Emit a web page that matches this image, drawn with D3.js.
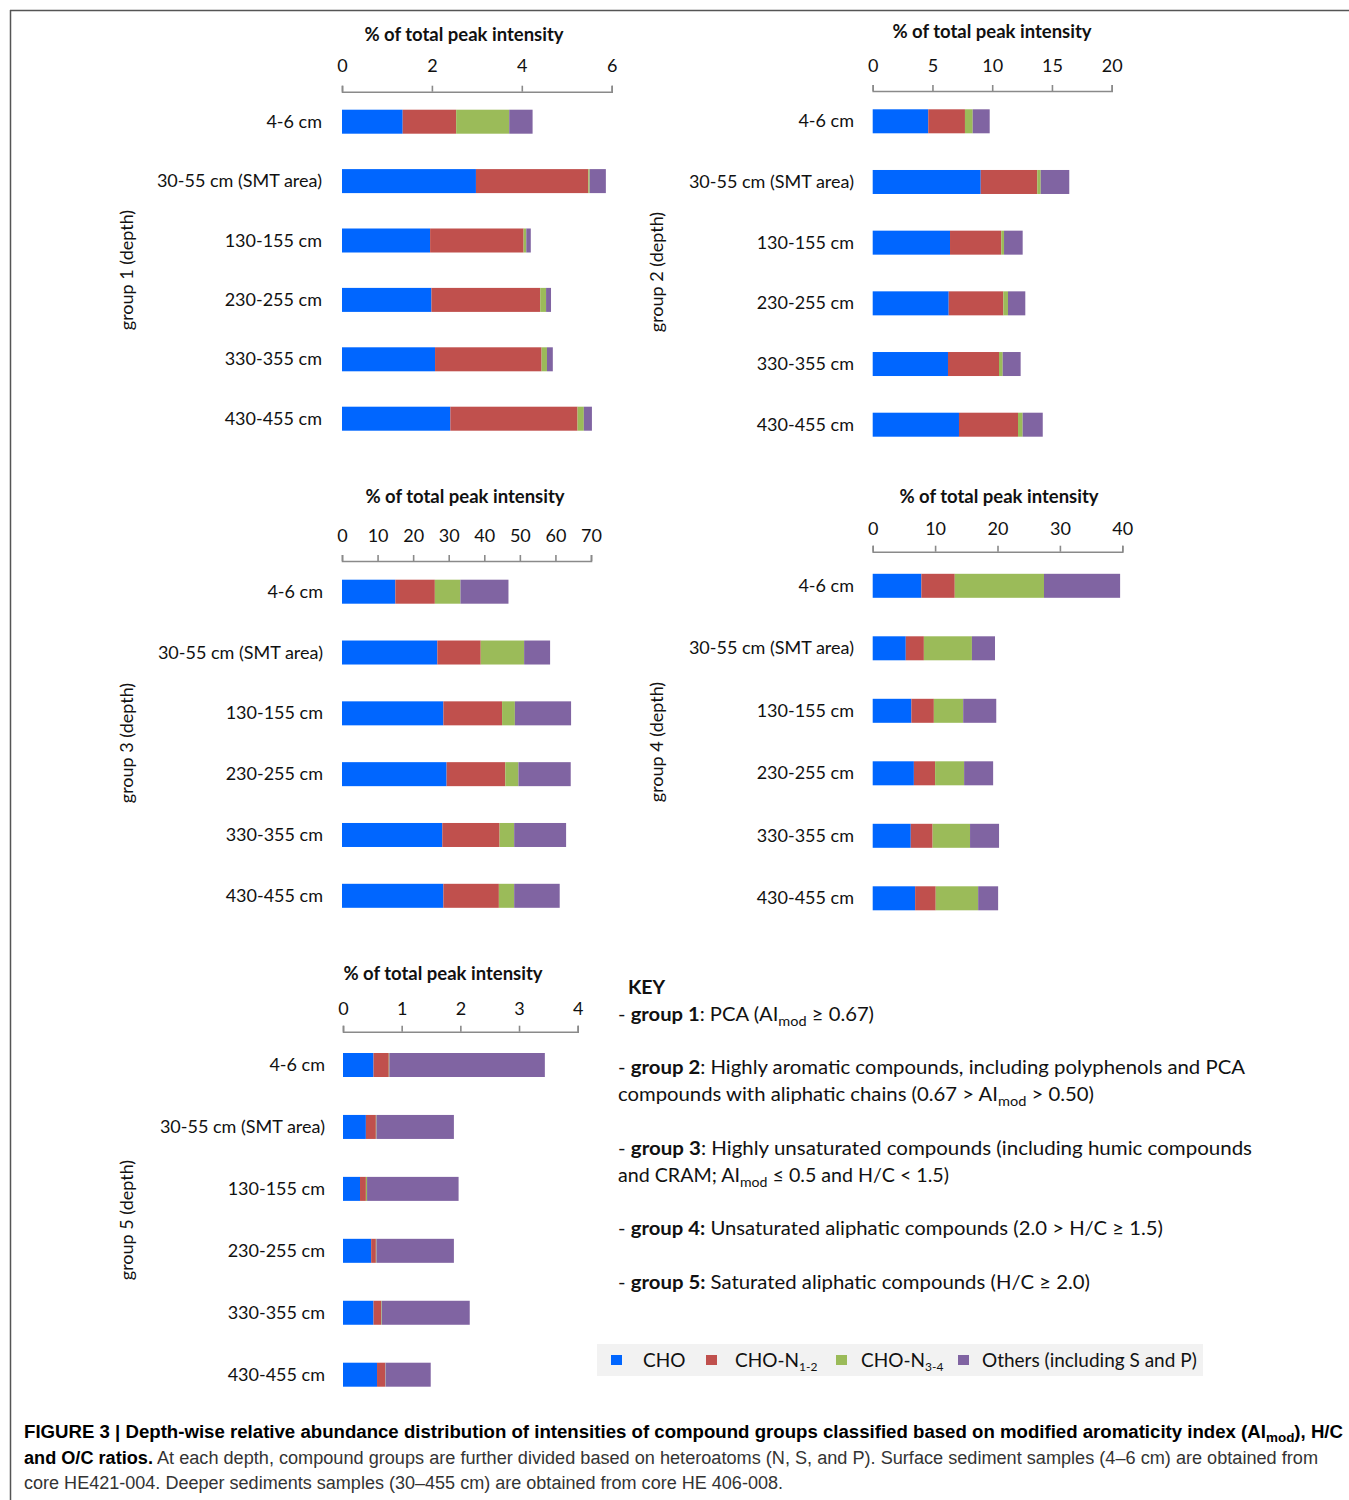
<!DOCTYPE html>
<html>
<head>
<meta charset="utf-8">
<script src="https://cdn.jsdelivr.net/npm/d3@7"></script>
<style>
  html, body { margin: 0; padding: 0; background: #fff; }
  svg { display: block; }
</style>
</head>
<body>
<svg id="chart" width="1349" height="1500"></svg>
<script>
// ---------------- DATA ----------------
const depths = ["4-6 cm", "30-55 cm (SMT area)", "130-155 cm", "230-255 cm", "330-355 cm", "430-455 cm"];
const seriesNames = ["CHO", "CHO-N1-2", "CHO-N3-4", "Others"];
const seriesColors = ["#0066ff", "#c0504d", "#9bbb59", "#8064a2"];

// values per depth: [CHO, CHO-N1-2, CHO-N3-4, Others]
const group1 = [[1.35, 1.19, 1.18, 0.52], [2.98, 2.50, 0.03, 0.36], [1.96, 2.08, 0.06, 0.10],
                [1.99, 2.42, 0.13, 0.11], [2.07, 2.37, 0.12, 0.13], [2.41, 2.83, 0.14, 0.18]];
const group2 = [[4.65, 3.07, 0.65, 1.42], [9.04, 4.73, 0.29, 2.39], [6.47, 4.29, 0.23, 1.56],
                [6.36, 4.57, 0.39, 1.45], [6.30, 4.27, 0.31, 1.50], [7.22, 4.94, 0.39, 1.68]];
const group3 = [[15.0, 11.1, 7.2, 13.5], [26.8, 12.2, 12.2, 7.3], [28.5, 16.5, 3.6, 15.8],
                [29.4, 16.5, 3.7, 14.7], [28.2, 16.1, 4.1, 14.6], [28.5, 15.6, 4.3, 12.8]];
const group4 = [[7.8, 5.35, 14.3, 12.2], [5.3, 2.9, 7.7, 3.7], [6.2, 3.6, 4.7, 5.3],
                [6.6, 3.4, 4.65, 4.65], [6.1, 3.5, 6.0, 4.65], [6.8, 3.3, 6.8, 3.2]];
const group5 = [[0.52, 0.26, 0.01, 2.65], [0.39, 0.17, 0.01, 1.32], [0.29, 0.10, 0.02, 1.56],
                [0.48, 0.08, 0.01, 1.32], [0.52, 0.13, 0.01, 1.50], [0.58, 0.14, 0.005, 0.77]];

const ticks1 = [0, 2, 4, 6];
const ticks2 = [0, 5, 10, 15, 20];
const ticks3 = [0, 10, 20, 30, 40, 50, 60, 70];
const ticks4 = [0, 10, 20, 30, 40];
const ticks5 = [0, 1, 2, 3, 4];

const groupLabels = ["group 1 (depth)", "group 2 (depth)", "group 3 (depth)", "group 4 (depth)", "group 5 (depth)"];
const axisTitle = "% of total peak intensity";

// ---------------- LAYOUT ----------------
const FONT = "Lato, 'Open Sans', sans-serif";
const panels = [
  { data: group1, ticks: ticks1, label: groupLabels[0], x0: 342, x1: 611.7, axisY: 91.7, tickBase: 72, titleX: 464, titleY: 41, yTop: 121.7, yBot: 418.7, labelRight: 322, glX: 127, glY: 270 },
  { data: group2, ticks: ticks2, label: groupLabels[1], x0: 872.7, x1: 1111.7, axisY: 91, tickBase: 72, titleX: 992, titleY: 38, yTop: 121.3, yBot: 424.7, labelRight: 854, glX: 657, glY: 272 },
  { data: group3, ticks: ticks3, label: groupLabels[2], x0: 342, x1: 591, axisY: 561, tickBase: 541.5, titleX: 465, titleY: 503, yTop: 591.7, yBot: 895.8, labelRight: 323, glX: 127, glY: 743 },
  { data: group4, ticks: ticks4, label: groupLabels[3], x0: 872.7, x1: 1122.3, axisY: 551.7, tickBase: 535, titleX: 999, titleY: 503, yTop: 585.8, yBot: 898.3, labelRight: 854, glX: 657, glY: 742 },
  { data: group5, ticks: ticks5, label: groupLabels[4], x0: 343, x1: 577.7, axisY: 1031.7, tickBase: 1015, titleX: 443, titleY: 980, yTop: 1065, yBot: 1374.7, labelRight: 325, glX: 127, glY: 1220 }
];

const svg = d3.select("#chart");

// frame lines
svg.append("line").attr("x1", 10).attr("x2", 1349).attr("y1", 10.5).attr("y2", 10.5)
  .attr("stroke", "#555").attr("stroke-width", 1.5);
svg.append("line").attr("x1", 10.5).attr("x2", 10.5).attr("y1", 10).attr("y2", 1500)
  .attr("stroke", "#555").attr("stroke-width", 1.5);

const stack = d3.stack().keys([0, 1, 2, 3]).value((d, k) => d[k]);

panels.forEach(p => {
  const g = svg.append("g");
  const domainMax = p.ticks[p.ticks.length - 1];
  const x = d3.scaleLinear().domain([0, domainMax]).range([p.x0, p.x1]);
  const bh = 24;
  const y = d3.scalePoint().domain(depths).range([p.yTop, p.yBot]);

  // axis
  const axis = d3.axisTop(x).tickValues(p.ticks).tickSize(6).tickSizeOuter(6)
    .tickPadding(p.axisY - p.tickBase - 6).tickFormat(d3.format("d"));
  const ag = g.append("g").attr("transform", `translate(0,${p.axisY})`).call(axis);
  ag.select(".domain").attr("stroke", "#8a8a8a").attr("stroke-width", 1.6);
  ag.selectAll(".tick line").attr("stroke", "#8a8a8a").attr("stroke-width", 1.6);
  ag.selectAll(".tick text").attr("font-family", FONT).attr("font-size", 18).attr("fill", "#111");

  // title
  g.append("text").attr("x", p.titleX).attr("y", p.titleY).attr("text-anchor", "middle")
    .attr("font-family", FONT).attr("font-weight", "bold").attr("font-size", 18.5).attr("fill", "#111")
    .text(axisTitle);

  // bars
  const stacked = stack(p.data);
  stacked.forEach((layer, k) => {
    g.append("g").selectAll("rect").data(layer).join("rect")
      .attr("x", d => x(d[0]))
      .attr("width", d => Math.max(0, x(d[1]) - x(d[0])))
      .attr("y", (d, i) => y(depths[i]) - bh / 2)
      .attr("height", bh)
      .attr("fill", seriesColors[k]);
  });

  // category labels
  g.append("g").selectAll("text").data(depths).join("text")
    .attr("x", p.labelRight).attr("y", d => y(d) + 6)
    .attr("text-anchor", "end").attr("font-family", FONT).attr("font-size", 18).attr("fill", "#111")
    .text(d => d);

  // group label
  g.append("text").attr("transform", `translate(${p.glX + 6},${p.glY}) rotate(-90)`)
    .attr("text-anchor", "middle").attr("font-family", FONT).attr("font-size", 18).attr("fill", "#111")
    .text(p.label);
});

// ---------------- KEY ----------------
const key = svg.append("g").attr("font-family", FONT).attr("font-size", 19.5).attr("fill", "#111");
key.append("text").attr("x", 628).attr("y", 994).attr("font-weight", "bold").text("KEY");

function keyLine(yy, parts, len) {
  const t = key.append("text").attr("x", 618).attr("y", yy);
  if (len) t.attr("textLength", len).attr("lengthAdjust", "spacingAndGlyphs");
  parts.forEach(pt => {
    const s = t.append("tspan").text(pt.t);
    if (pt.b) s.attr("font-weight", "bold");
    if (pt.sub) s.attr("font-size", 14).attr("dy", 5);
    if (pt.up) s.attr("dy", -5);
  });
}
keyLine(1021, [{t: "- "}, {t: "group 1", b: 1}, {t: ": PCA  (AI"}, {t: "mod", sub: 1}, {t: " ≥ 0.67)", up: 1}], 256);
keyLine(1074, [{t: "- "}, {t: "group 2", b: 1}, {t: ": Highly aromatic compounds, including polyphenols and PCA"}], 627);
keyLine(1101, [{t: "compounds with aliphatic chains (0.67 > AI"}, {t: "mod", sub: 1}, {t: " > 0.50)", up: 1}], 476);
keyLine(1155, [{t: "- "}, {t: "group 3", b: 1}, {t: ": Highly unsaturated compounds (including humic compounds"}], 634);
keyLine(1182, [{t: "and CRAM; AI"}, {t: "mod", sub: 1}, {t: " ≤ 0.5 and H/C < 1.5)", up: 1}], 331);
keyLine(1235, [{t: "- "}, {t: "group 4:", b: 1}, {t: " Unsaturated aliphatic compounds (2.0 > H/C ≥ 1.5)"}], 545);
keyLine(1289, [{t: "- "}, {t: "group 5:", b: 1}, {t: " Saturated aliphatic compounds (H/C ≥ 2.0)"}], 472);

// ---------------- LEGEND ----------------
const legend = svg.append("g");
legend.append("rect").attr("x", 597).attr("y", 1344).attr("width", 606).attr("height", 32).attr("fill", "#f2f2f2");
const legendItems = [
  { sq: 611, tx: 643, main: "CHO", sub: null },
  { sq: 706, tx: 735, main: "CHO-N", sub: "1-2" },
  { sq: 836, tx: 861, main: "CHO-N", sub: "3-4" },
  { sq: 958, tx: 982, main: "Others (including S and P)", sub: null }
];
legendItems.forEach((it, i) => {
  legend.append("rect").attr("x", it.sq).attr("y", 1355).attr("width", 11).attr("height", 10)
    .attr("fill", seriesColors[i]);
  const t = legend.append("text").attr("x", it.tx).attr("y", 1367)
    .attr("font-family", FONT).attr("font-size", 19).attr("fill", "#111");
  t.append("tspan").text(it.main);
  if (it.sub) t.append("tspan").attr("font-size", 12).attr("dy", 4).text(it.sub);
});

// ---------------- CAPTION ----------------
const CAPFONT = "'Liberation Sans Narrow', 'Liberation Sans', Arial, sans-serif";
const cap = svg.append("g").attr("font-family", CAPFONT).attr("font-size", 18).attr("fill", "#333");
function capLine(yy, parts, len) {
  const t = cap.append("text").attr("x", 24).attr("y", yy)
    .attr("textLength", len).attr("lengthAdjust", "spacingAndGlyphs");
  parts.forEach(pt => {
    const s = t.append("tspan").text(pt.t);
    if (pt.b) s.attr("font-weight", "bold").attr("fill", "#000");
    if (pt.sub) s.attr("font-size", 13).attr("dy", 4);
    if (pt.up) s.attr("dy", -4);
  });
}
capLine(1438, [{t: "FIGURE 3 | Depth-wise relative abundance distribution of intensities of compound groups classified based on modified aromaticity index (AI", b: 1},
               {t: "mod", b: 1, sub: 1}, {t: "), H/C", b: 1, up: 1}], 1319);
capLine(1464, [{t: "and O/C ratios.", b: 1}, {t: " At each depth, compound groups are further divided based on heteroatoms (N, S, and P). Surface sediment samples (4–6 cm) are obtained from"}], 1294);
capLine(1489, [{t: "core HE421-004. Deeper sediments samples (30–455 cm) are obtained from core HE 406-008."}], 759);
</script>
</body>
</html>
